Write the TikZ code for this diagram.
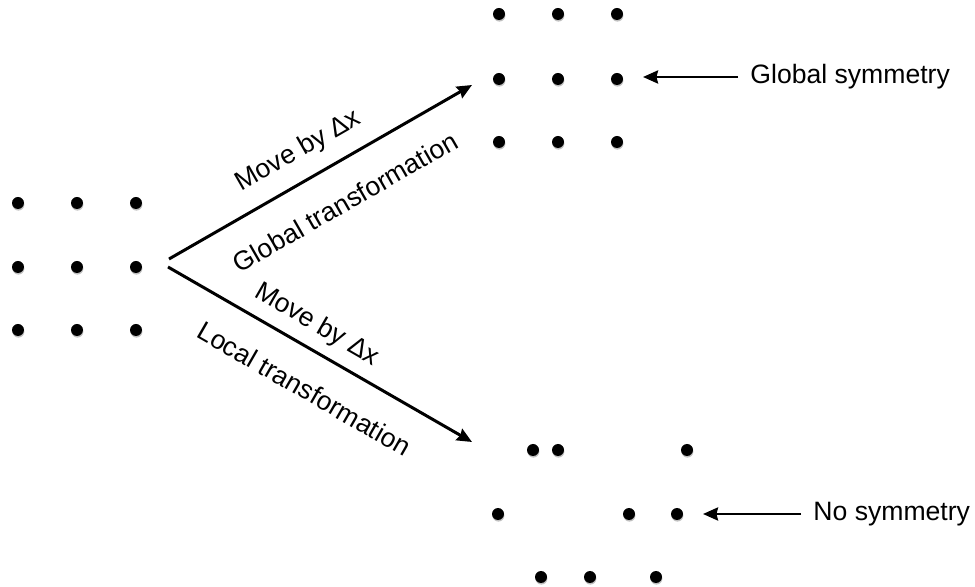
\documentclass[tikz,border=0pt]{standalone}
\usepackage{fontspec}
\setmainfont{Liberation Sans}
\usetikzlibrary{positioning, arrows.meta, shadows}

\begin{document}
\begin{tikzpicture}[
  x=0.5pt, y=-0.5pt,
  >={Stealth[length=7.5pt, width=6.5pt, inset=0.8pt]},
  every node/.style={font=\fontsize{13.3}{16}\selectfont},
  dot/.style={circle, fill=black, inner sep=0pt, minimum size=6pt,
              drop shadow={shadow xshift=0.2pt, shadow yshift=-0.8pt,
                           opacity=0.25, fill=black}},
  move/.style={->, line width=1.5pt},
  pointer/.style={->, line width=1.4pt},
  tag/.style={inner sep=0pt, sloped}
]
\useasboundingbox (0,0) rectangle (975,587);

% ---- LEFT: original lattice ----
\foreach \r/\y in {1/203, 2/267, 3/330}
  \foreach \c/\x in {1/18, 2/77, 3/136}
    \node[dot] (L\r\c) at (\x,\y) {};

% ---- TOP RIGHT: lattice after global move ----
\foreach \r/\y in {1/14, 2/79, 3/142}
  \foreach \c/\x in {1/499, 2/558, 3/617}
    \node[dot] (G\r\c) at (\x,\y) {};

% ---- BOTTOM RIGHT: lattice after local move ----
\foreach \n/\x/\y in {1/533/450, 2/558/450, 3/687/450,
                      4/498/514, 5/629/514, 6/677/514,
                      7/541/577, 8/590/577, 9/656/577}
  \node[dot] (P\n) at (\x,\y) {};

% ---- transformations ----
\coordinate (gfrom) at (169,259);
\coordinate (gto)   at (472,85);
\coordinate (lfrom) at (168,267);
\coordinate (lto)   at (472,442);

\draw[move] (gfrom) --
  node[tag, above=7.5pt, pos=0.475] (gmove) {Move by Δx}
  node[tag, below=13.5pt, pos=0.518] (gtrans) {Global transformation}
  (gto);

\draw[move] (lfrom) --
  node[tag, above=5pt, pos=0.45] (lmove) {Move by Δx}
  node[tag, below=13pt, pos=0.51] (ltrans) {Local transformation}
  (lto);

% ---- outcomes ----
\node[anchor=west, inner sep=6pt] (gsym) at (738,77) {Global symmetry};
\coordinate (gtip) at (643,77);
\draw[pointer] (gsym.west) -- (gtip);

\node[anchor=west, inner sep=6pt] (nosym) at (801,514) {No symmetry};
\coordinate (ntip) at (703,514);
\draw[pointer] (nosym.west) -- (ntip);

\end{tikzpicture}
\end{document}
